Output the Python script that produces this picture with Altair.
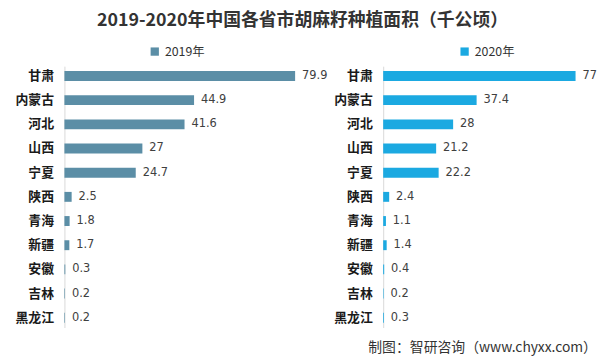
import altair as alt
import pandas as pd

provinces = ["甘肃", "内蒙古", "河北", "山西", "宁夏", "陕西", "青海", "新疆", "安徽", "吉林", "黑龙江"]
v2019 = [79.9, 44.9, 41.6, 27, 24.7, 2.5, 1.8, 1.7, 0.3, 0.2, 0.2]
v2020 = [77, 37.4, 28, 21.2, 22.2, 2.4, 1.1, 1.4, 0.4, 0.2, 0.3]

FONT = "Noto Sans CJK SC"


def panel(values, year, color, width, legend_x):
    df = pd.DataFrame({
        "省份": provinces,
        "面积": values,
        "标签": [f"{v:g}" for v in values],
        "年份": [f"{year}年"] * len(values),
    })
    base = alt.Chart(df).encode(
        y=alt.Y(
            "省份:N",
            sort=provinces,
            scale=alt.Scale(paddingInner=0.59, paddingOuter=0.2),
            axis=alt.Axis(
                title=None, ticks=False, grid=False, domain=True,
                domainColor="#d9d9d9", labelFont=FONT, labelFontSize=13,
                labelFontWeight="bold", labelColor="#1a1a1a", labelPadding=11,
                minExtent=57, maxExtent=57,
            ),
        )
    )
    bars = base.mark_bar(size=10).encode(
        x=alt.X("面积:Q", scale=alt.Scale(domain=[0, 84], nice=False, zero=True), axis=None),
        color=alt.Color(
            "年份:N",
            scale=alt.Scale(range=[color]),
            legend=alt.Legend(
                title=None, orient="none", legendX=legend_x, legendY=-21,
                symbolType="square", symbolSize=70, symbolStrokeWidth=0,
                labelFont=FONT, labelFontSize=12.5, labelColor="#333333",
            ),
        ),
    )
    text = base.mark_text(align="left", dx=7, font="DejaVu Sans", fontSize=11.5,
                          color="#404040").encode(
        x=alt.X("面积:Q"),
        text="标签:N",
    )
    return alt.layer(bars, text).properties(width=width, height=264)


left = panel(v2019, 2019, "#5b8ea6", 245, 85)
right = panel(v2020, 2020, "#1ba9e1", 212, 76).properties(
    title=alt.TitleParams(
        "制图：智研咨询（www.chyxx.com）", orient="bottom", anchor="end",
        font=FONT, fontSize=14, fontWeight="normal", color="#333333", offset=14,
    )
)

chart = alt.hconcat(left, right, spacing=77, bounds="flush").resolve_scale(
    color="independent", x="independent"
).properties(
    title=alt.TitleParams(
        "2019-2020年中国各省市胡麻籽种植面积（千公顷）",
        font=FONT, fontSize=18, fontWeight="bold", color="#333333",
        anchor="middle", offset=16,
    ),
    padding={"top": 2, "left": 0, "right": 0, "bottom": 0},
    background="white",
).configure_view(stroke=None)

chart.save("out.html", embed_options={"renderer": "svg", "actions": False})
